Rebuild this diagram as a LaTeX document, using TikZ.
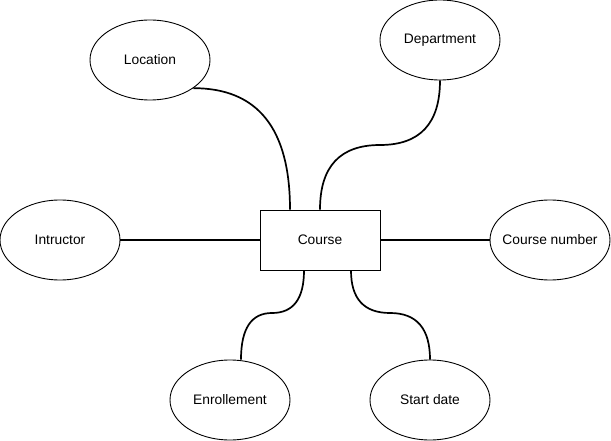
\documentclass[tikz,border=0pt]{standalone}
\usepackage{fontspec}
\setmainfont{Liberation Sans}
\usetikzlibrary{shapes.geometric,calc}
\begin{document}
\begin{tikzpicture}[x=1pt,y=-1pt,
  attr/.style={ellipse,draw=black,line width=0.9pt,minimum width=120pt,minimum height=80pt,inner sep=0pt,
    font=\fontsize{13.8}{16}\selectfont},
  ent/.style={rectangle,draw=black,line width=0.9pt,minimum width=120pt,minimum height=60pt,inner sep=0pt,
    font=\fontsize{13.8}{16}\selectfont},
  link/.style={draw=black,line width=1.7pt}]
\useasboundingbox (0,0) rectangle (611,441);
\node[ent] (course) at (320,240) {Course};
\node[attr] (loc) at (150,60) {\makebox[0pt]{Location}};
\node[attr] (dep) at (440,40) {\makebox[0pt]{Department}};
\node[attr] (ins) at (60,240) {\makebox[0pt]{Intructor}};
\node[attr] (num) at (550,240) {\makebox[0pt]{Course number}};
\node[attr] (enr) at (230,400) {\makebox[0pt]{Enrollement}};
\node[attr] (start) at (430,400) {\makebox[0pt]{Start date}};
\coordinate (ls) at (loc.-33);
\coordinate (cn1) at ([xshift=-30pt]course.north);
\coordinate (cs1) at ([xshift=-16pt]course.south);
\coordinate (cs2) at ([xshift=31pt]course.south);
\coordinate (en1) at ([xshift=11pt]enr.north);
\coordinate (m1) at (380,145);
\coordinate (m2) at (272,313);
\coordinate (m3) at (390,313);
\coordinate (k0) at (ls -| cn1);
\coordinate (k1) at (dep.south |- m1);
\coordinate (k2) at (course.north |- m1);
\coordinate (k3) at (cs1 |- m2);
\coordinate (k4) at (en1 |- m2);
\coordinate (k5) at (cs2 |- m3);
\coordinate (k6) at (start.north |- m3);
\draw[link] (ls) .. controls ($(ls)!0.667!(k0)$) and ($(cn1)!0.667!(k0)$) .. (cn1);
\draw[link] (dep.south) .. controls ($(dep.south)!0.667!(k1)$) and ($(m1)!0.667!(k1)$) .. (m1)
  .. controls ($(m1)!0.667!(k2)$) and ($(course.north)!0.667!(k2)$) .. (course.north);
\draw[link] (ins.east) -- (course.west);
\draw[link] (course.east) -- (num.west);
\draw[link] (cs1) .. controls ($(cs1)!0.667!(k3)$) and ($(m2)!0.667!(k3)$) .. (m2)
  .. controls ($(m2)!0.667!(k4)$) and ($(en1)!0.667!(k4)$) .. (en1);
\draw[link] (cs2) .. controls ($(cs2)!0.667!(k5)$) and ($(m3)!0.667!(k5)$) .. (m3)
  .. controls ($(m3)!0.667!(k6)$) and ($(start.north)!0.667!(k6)$) .. (start.north);
\end{tikzpicture}
\end{document}
